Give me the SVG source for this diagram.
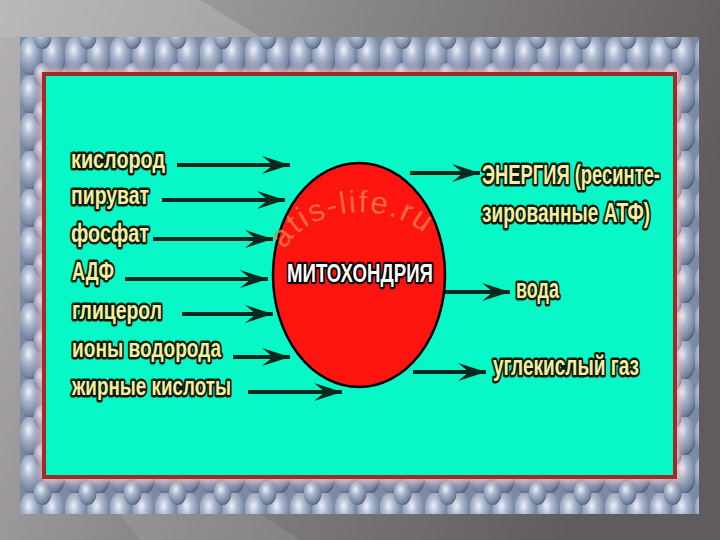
<svg xmlns="http://www.w3.org/2000/svg" width="720" height="540" viewBox="0 0 720 540">
<defs>
<linearGradient id="bg" x1="0" y1="0" x2="1" y2="0.3">
<stop offset="0" stop-color="#b4b2b4"/>
<stop offset="0.45" stop-color="#8a878a"/>
<stop offset="1" stop-color="#5f5b5e"/>
</linearGradient>
<radialGradient id="peb" cx="0.4" cy="0.35" r="0.7">
<stop offset="0" stop-color="#eef2fa"/>
<stop offset="0.35" stop-color="#aab6cc"/>
<stop offset="0.8" stop-color="#7584a0"/>
<stop offset="1" stop-color="#4a5570"/>
</radialGradient>
<pattern id="pebbles" x="20" y="37" width="45" height="38" patternUnits="userSpaceOnUse">
<rect width="45" height="38" fill="#7d8aa6"/>
<ellipse cx="11" cy="19" rx="12" ry="20" fill="url(#peb)"/>
<ellipse cx="34" cy="19" rx="12" ry="20" fill="url(#peb)"/>
<ellipse cx="22.5" cy="0" rx="9" ry="12" fill="url(#peb)"/>
<ellipse cx="22.5" cy="38" rx="9" ry="12" fill="url(#peb)"/>
</pattern>
<filter id="blur3" x="-10%" y="-10%" width="120%" height="120%"><feGaussianBlur stdDeviation="3"/></filter>
<marker id="ah" markerUnits="userSpaceOnUse" markerWidth="28" markerHeight="18" viewBox="0 0 28 18" refX="28" refY="9" orient="auto">
<path d="M0,0 L28,9 L0,18 L11,9 Z" fill="#06281f"/>
</marker>
<style>
.lbl{font-family:"Liberation Sans","DejaVu Sans",sans-serif;font-weight:bold;font-size:26px;fill:#f3efa2;stroke:#0a1a0a;stroke-width:5px;stroke-linejoin:round;paint-order:stroke;}
.lblR{font-size:27px;}
.mito{font-family:"Liberation Sans","DejaVu Sans",sans-serif;font-weight:bold;font-size:25px;fill:#ffffff;stroke:#000;stroke-width:4.5px;stroke-linejoin:round;paint-order:stroke;}
.wm{font-family:"Liberation Sans","DejaVu Sans",sans-serif;font-size:31px;fill:#ff8048;fill-opacity:0.8;letter-spacing:2px;}
.arr{stroke:#06281f;stroke-width:4;fill:none;marker-end:url(#ah);}
</style>
</defs>

<!-- slide background -->
<rect x="0" y="0" width="720" height="540" fill="url(#bg)"/>
<polygon points="0,0 200,0 260,37 0,37" fill="#c8c6c8" opacity="0.35"/>
<polygon points="120,514 260,514 300,540 140,540" fill="#c8c6c8" opacity="0.15"/>

<!-- pebble frame -->
<rect x="20" y="37" width="679" height="477" fill="url(#pebbles)"/>

<!-- panel -->
<rect x="44" y="74" width="631" height="403" fill="none" stroke="#f0b8c0" stroke-width="8" filter="url(#blur3)"/>
<rect id="panel" x="44" y="74" width="631" height="403" fill="#08f7c6" stroke="#9c2e26" stroke-width="4"/>

<!-- connectors -->
<g id="connectors">
<line class="arr" x1="177" y1="165" x2="290" y2="165"/>
<line class="arr" x1="162" y1="200" x2="285" y2="200"/>
<line class="arr" x1="153" y1="239" x2="273" y2="239"/>
<line class="arr" x1="125" y1="279" x2="268" y2="279"/>
<line class="arr" x1="182" y1="314" x2="273" y2="314"/>
<line class="arr" x1="233" y1="357" x2="290" y2="357"/>
<line class="arr" x1="248" y1="392" x2="342" y2="392"/>
<line class="arr" x1="410" y1="173" x2="480" y2="173"/>
<line class="arr" x1="443" y1="292" x2="510" y2="292"/>
<line class="arr" x1="413" y1="372" x2="486" y2="372"/>
</g>

<!-- central node -->
<g id="node-mitochondria">
<ellipse cx="359" cy="275" rx="86" ry="112" fill="#ff1510" stroke="#000" stroke-width="2.5"/>
<path id="wmpath" d="M285,250 C305,208 398,192 440,250" fill="none"/>
<text class="wm"><textPath href="#wmpath">atis-life.ru</textPath></text>
<text class="mito" x="287" y="282" textLength="146" lengthAdjust="spacingAndGlyphs">МИТОХОНДРИЯ</text>
</g>

<!-- inputs -->
<g id="in-kislorod"><text class="lbl" x="71" y="168" textLength="94" lengthAdjust="spacingAndGlyphs">кислород</text></g>
<g id="in-piruvat"><text class="lbl" x="71" y="204" textLength="78" lengthAdjust="spacingAndGlyphs">пируват</text></g>
<g id="in-fosfat"><text class="lbl" x="71" y="242" textLength="78" lengthAdjust="spacingAndGlyphs">фосфат</text></g>
<g id="in-adf"><text class="lbl" x="72" y="280" textLength="42" lengthAdjust="spacingAndGlyphs">АДФ</text></g>
<g id="in-glicerol"><text class="lbl" x="72" y="319" textLength="90" lengthAdjust="spacingAndGlyphs">глицерол</text></g>
<g id="in-iony"><text class="lbl" x="72" y="357" textLength="149" lengthAdjust="spacingAndGlyphs">ионы водорода</text></g>
<g id="in-zhirnye"><text class="lbl" x="72" y="395" textLength="159" lengthAdjust="spacingAndGlyphs">жирные кислоты</text></g>

<!-- outputs -->
<g id="out-energia">
<text class="lbl lblR" x="482" y="184" textLength="178" lengthAdjust="spacingAndGlyphs">ЭНЕРГИЯ (ресинте-</text>
<text class="lbl lblR" x="482" y="222" textLength="168" lengthAdjust="spacingAndGlyphs">зированные АТФ)</text>
</g>
<g id="out-voda"><text class="lbl lblR" x="516" y="298" textLength="43" lengthAdjust="spacingAndGlyphs">вода</text></g>
<g id="out-co2"><text class="lbl lblR" x="493" y="375" textLength="146" lengthAdjust="spacingAndGlyphs">углекислый газ</text></g>
</svg>
